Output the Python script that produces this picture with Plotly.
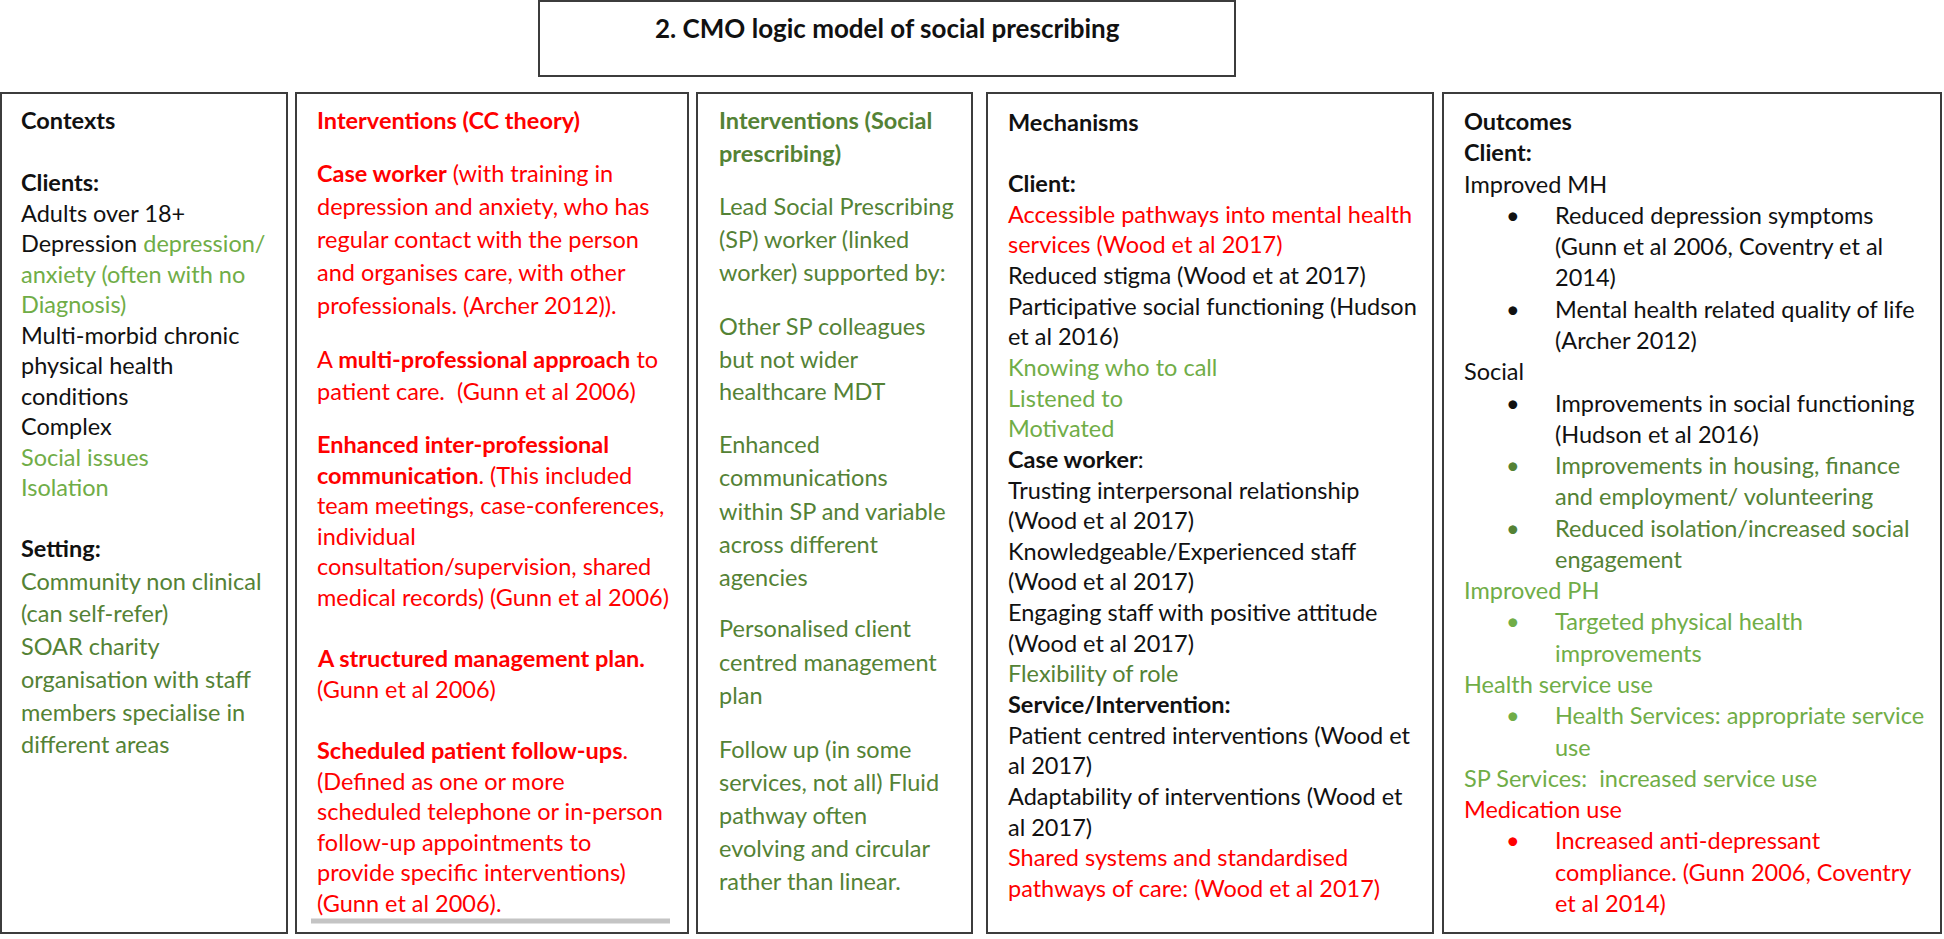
import plotly.graph_objects as go

RED = "#ff0000"
LGREEN = "#70ad47"
DGREEN = "#548235"
BLACK = "#111111"


def c(col, s):
    return f"<span style='color:{col}'>{s}</span>"


def b(s):
    return f"<b>{s}</b>"


# ---------------- text content ----------------
TITLE = "2. CMO logic model of social prescribing"

CONTEXTS = [
    [b("Contexts")],
    [b("Clients:"), "Adults over 18+", "Depression " + c(LGREEN, "depression/"),
     c(LGREEN, "anxiety (often with no"), c(LGREEN, "Diagnosis)"),
     "Multi-morbid chronic", "physical health", "conditions", "Complex",
     c(LGREEN, "Social issues"), c(LGREEN, "Isolation")],
    [b("Setting:"), c(DGREEN, "Community non clinical"), c(DGREEN, "(can self-refer)"),
     c(DGREEN, "SOAR charity"), c(DGREEN, "organisation with staff"),
     c(DGREEN, "members specialise in"), c(DGREEN, "different areas")],
]

INTERVENTIONS_CC = [
    [b("Interventions (CC theory)")],
    [b("Case worker") + " (with training in", "depression and anxiety, who has",
     "regular contact with the person", "and organises care, with other",
     "professionals. (Archer 2012))."],
    ["A " + b("multi-professional approach") + " to", "patient care.&nbsp; (Gunn et al 2006)"],
    [b("Enhanced inter-professional"), b("communication") + ". (This included",
     "team meetings, case-conferences,", "individual",
     "consultation/supervision, shared", "medical records) (Gunn et al 2006)"],
    [b("A structured management plan."), "(Gunn et al 2006)"],
    [b("Scheduled patient follow-ups") + ".", "(Defined as one or more",
     "scheduled telephone or in-person", "follow-up appointments to",
     "provide specific interventions)", "(Gunn et al 2006)."],
]

INTERVENTIONS_SP = [
    [b("Interventions (Social"), b("prescribing)")],
    ["Lead Social Prescribing", "(SP) worker (linked", "worker) supported by:"],
    ["Other SP colleagues", "but not wider", "healthcare MDT"],
    ["Enhanced", "communications", "within SP and variable", "across different", "agencies"],
    ["Personalised client", "centred management", "plan"],
    ["Follow up (in some", "services, not all) Fluid", "pathway often",
     "evolving and circular", "rather than linear."],
]

MECHANISMS = [
    [b("Mechanisms")],
    [b("Client:"), c(RED, "Accessible pathways into mental health"),
     c(RED, "services (Wood et al 2017)"), "Reduced stigma (Wood et at 2017)",
     "Participative social functioning (Hudson", "et al 2016)",
     c(LGREEN, "Knowing who to call"), c(LGREEN, "Listened to"), c(LGREEN, "Motivated"),
     b("Case worker") + ":", "Trusting interpersonal relationship", "(Wood et al 2017)",
     "Knowledgeable/Experienced staff", "(Wood et al 2017)",
     "Engaging staff with positive attitude", "(Wood et al 2017)",
     c(DGREEN, "Flexibility of role"), b("Service/Intervention:"),
     "Patient centred interventions (Wood et", "al 2017)",
     "Adaptability of interventions (Wood et", "al 2017)",
     c(RED, "Shared systems and standardised"),
     c(RED, "pathways of care: (Wood et al 2017)")],
]

# outcome lines: (level, colour, text); level 0 heading, 1 bullet, 2 bullet continuation
OUTCOMES = [
    (0, BLACK, b("Outcomes")),
    (0, BLACK, b("Client:")),
    (0, BLACK, "Improved MH"),
    (1, BLACK, "Reduced depression symptoms"),
    (2, BLACK, "(Gunn et al 2006, Coventry et al"),
    (2, BLACK, "2014)"),
    (1, BLACK, "Mental health related quality of life"),
    (2, BLACK, "(Archer 2012)"),
    (0, BLACK, "Social"),
    (1, BLACK, "Improvements in social functioning"),
    (2, BLACK, "(Hudson et al 2016)"),
    (1, DGREEN, "Improvements in housing, finance"),
    (2, DGREEN, "and employment/ volunteering"),
    (1, DGREEN, "Reduced isolation/increased social"),
    (2, DGREEN, "engagement"),
    (0, LGREEN, "Improved PH"),
    (1, LGREEN, "Targeted physical health"),
    (2, LGREEN, "improvements"),
    (0, LGREEN, "Health service use"),
    (1, LGREEN, "Health Services: appropriate service"),
    (2, LGREEN, "use"),
    (0, LGREEN, "SP Services:&nbsp; increased service use"),
    (0, RED, "Medication use"),
    (1, RED, "Increased anti-depressant"),
    (2, RED, "compliance. (Gunn 2006, Coventry"),
    (2, RED, "et al 2014)"),
]

# ---------------- layout constants ----------------
W, H = 1944, 939
FONT = "Lato"
FS = 23.5
BORDER = "#3c3c3c"

TITLE_BOX = (539, 1, 1235, 76)
# box: (x0, y0, x1, y1), text x, default colour, per-paragraph (first-line y, pitch)
COLUMNS = [
    dict(box=(1, 93, 287, 933), tx=19, col=BLACK, lines=CONTEXTS,
         paras=[(120, 31), (182, 30.5), (548, 32.7)]),
    dict(box=(296, 93, 688, 933), tx=315, col=RED, lines=INTERVENTIONS_CC,
         paras=[(120, 31), (173, 33), (359, 32), (444, 30.6), (658, 31), (750, 30.6)]),
    dict(box=(697, 93, 972, 933), tx=717, col=DGREEN, lines=INTERVENTIONS_SP,
         paras=[(120, 33), (206, 33), (326, 32.5), (444, 33.25), (628, 33.5), (749, 33)]),
    dict(box=(987, 93, 1433, 933), tx=1006, col=BLACK, lines=MECHANISMS,
         paras=[(122, 31), (183, 30.65)]),
]
OUT_BOX = (1443, 93, 1941, 933)
OUT_X = {0: 1462, 1: 1553, 2: 1553}
OUT_BULLET_X = 1513
OUT_Y0, OUT_PITCH = 121, 31.28

fig = go.Figure()
shapes = []
annotations = []


def rect(bx, width=2):
    shapes.append(dict(type="rect", xref="x", yref="y", x0=bx[0], y0=bx[1], x1=bx[2], y1=bx[3],
                       line=dict(color=BORDER, width=width), fillcolor="rgba(0,0,0,0)"))


def text(x, y, s, col, size=FS, anchor="left"):
    annotations.append(dict(x=x, y=y, xref="x", yref="y", text=s, showarrow=False,
                            xanchor=anchor, yanchor="middle",
                            font=dict(family=FONT, size=size, color=col)))


rect(TITLE_BOX)
text((TITLE_BOX[0] + TITLE_BOX[2]) / 2, 28, b(TITLE), BLACK, size=26, anchor="center")

for colspec in COLUMNS:
    rect(colspec["box"])
    for para, (y0, pitch) in zip(colspec["lines"], colspec["paras"]):
        for i, line in enumerate(para):
            text(colspec["tx"], y0 + i * pitch, line, colspec["col"])

# grey rule under the CC interventions text
shapes.append(dict(type="line", xref="x", yref="y", x0=311, x1=670, y0=921, y1=921,
                   line=dict(color="#c4c4c4", width=5)))

rect(OUT_BOX)
for i, (lvl, col, s) in enumerate(OUTCOMES):
    y = OUT_Y0 + i * OUT_PITCH
    text(OUT_X[lvl], y, s, col, size=FS)
    if lvl == 1:
        text(OUT_BULLET_X, y, "•", col, size=FS, anchor="center")

fig.update_layout(
    width=W, height=H, margin=dict(l=0, r=0, t=0, b=0),
    paper_bgcolor="white", plot_bgcolor="white",
    xaxis=dict(range=[0, W], visible=False, fixedrange=True),
    yaxis=dict(range=[H, 0], visible=False, fixedrange=True),
    shapes=shapes, annotations=annotations, showlegend=False,
)
fig.write_html("out.html", config={"displayModeBar": False},
               post_script="document.body.style.margin='0px';document.body.style.overflow='hidden';")
